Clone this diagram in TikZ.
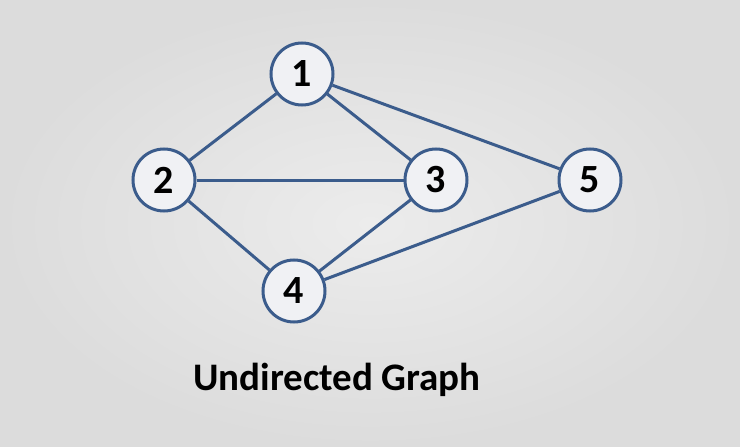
\documentclass[tikz,border=0pt]{standalone}
\usepackage{fontspec}
\setmainfont{Carlito}
\definecolor{edgeblue}{HTML}{3B5C8C}
\definecolor{bgout}{HTML}{DCDCDC}
\definecolor{bgin}{HTML}{ECECEC}
\definecolor{nodefill}{HTML}{F0F1F4}
\begin{document}
\begin{tikzpicture}[x=1pt,y=-1pt,
  vert/.style={circle,draw=edgeblue,line width=3pt,fill=nodefill,minimum size=62pt,inner sep=0pt,font=\fontsize{40}{44}\selectfont\bfseries},
  edge/.style={draw=edgeblue,line width=3pt}]
\useasboundingbox (0,0) rectangle (740,447);
\shade[inner color=bgin,outer color=bgout] (0,0) rectangle (740,447);
\node[vert] (n1) at (302,74) {1};
\node[vert] (n2) at (164,180) {2};
\node[vert] (n3) at (436,180) {3};
\node[vert] (n4) at (294,291) {4};
\node[vert] (n5) at (590,180) {5};
\draw[edge] (n1) -- (n2);
\draw[edge] (n1) -- (n3);
\draw[edge] (n1) -- (n5);
\draw[edge] (n2) -- (n3);
\draw[edge] (n2) -- (n4);
\draw[edge] (n3) -- (n4);
\draw[edge] (n4) -- (n5);
\node[font=\fontsize{39}{44}\selectfont\bfseries,anchor=base,inner sep=0pt] (cap) at (337,390) {Undirected Graph};
\end{tikzpicture}
\end{document}
